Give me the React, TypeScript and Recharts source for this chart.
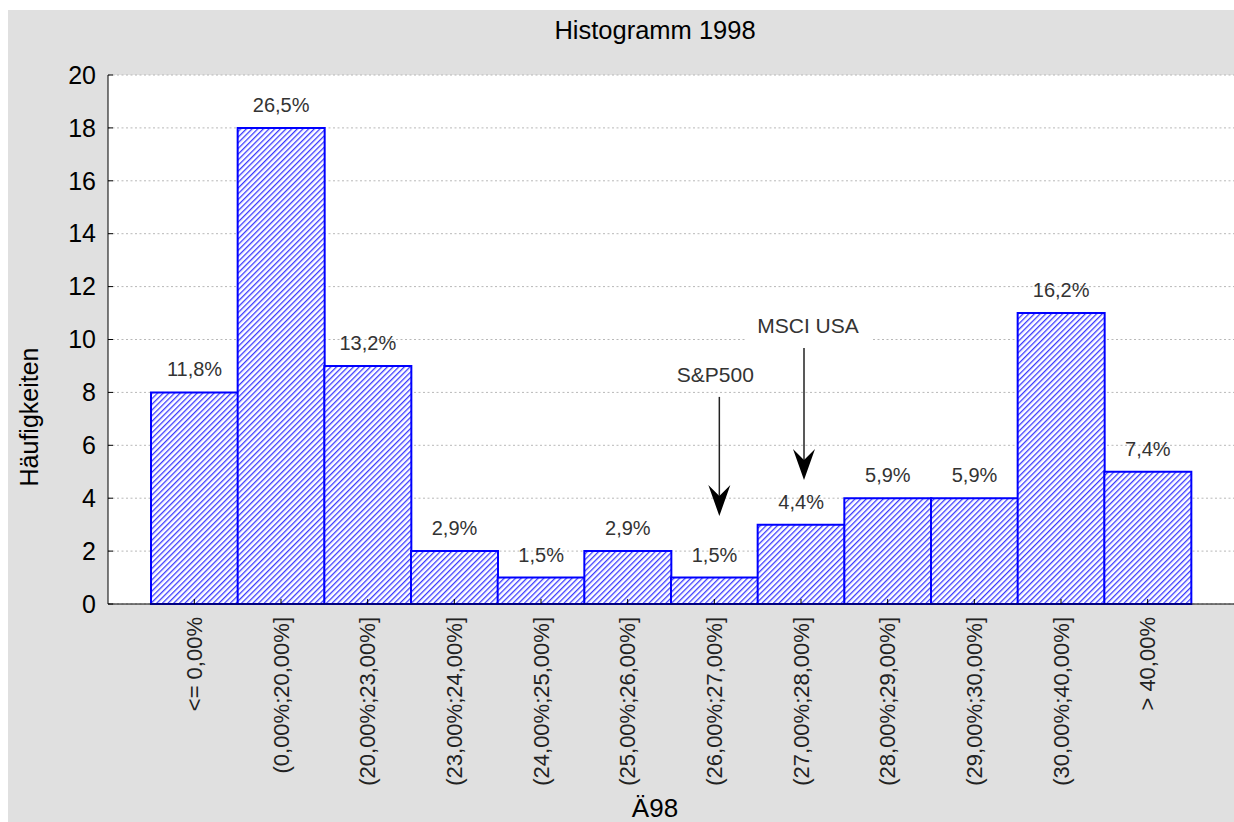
import React from 'react';
import {
  BarChart,
  Bar,
  XAxis,
  YAxis,
  CartesianGrid,
  LabelList,
  ReferenceLine,
} from 'recharts';

const bins = [
  '<= 0,00%',
  '(0,00%;20,00%]',
  '(20,00%;23,00%]',
  '(23,00%;24,00%]',
  '(24,00%;25,00%]',
  '(25,00%;26,00%]',
  '(26,00%;27,00%]',
  '(27,00%;28,00%]',
  '(28,00%;29,00%]',
  '(29,00%;30,00%]',
  '(30,00%;40,00%]',
  '> 40,00%',
];
const counts = [8, 18, 9, 2, 1, 2, 1, 3, 4, 4, 11, 5];
const shares = ['11,8%', '26,5%', '13,2%', '2,9%', '1,5%', '2,9%', '1,5%', '4,4%', '5,9%', '5,9%', '16,2%', '7,4%'];
const yTicks = [0, 2, 4, 6, 8, 10, 12, 14, 16, 18, 20];

// arrows pointing at the index returns
const markerNames = ['S&P500', 'MSCI USA'];
const markerBins = ['(26,00%;27,00%]', '(27,00%;28,00%]'];
const markerFrom = [7.83, 9.68];
const markerTo = [3.33, 4.69];

const data = bins.map((bin, i) => ({ bin, count: counts[i], share: shares[i] }));

const FONT = '"Liberation Sans", Arial, sans-serif';
const W = 1226;
const H = 812;

const LeftTick = ({ x, y, payload }: any) => (
  <g>
    <line x1={x + 12} x2={x + 17} y1={y} y2={y} stroke="#000" />
    <text x={x} y={y} dy="0.35em" textAnchor="end" fontSize={25} fill="#000" fontFamily={FONT}>
      {payload.value}
    </text>
  </g>
);

const RightTick = ({ x, y }: any) => (
  <line x1={x - 5} x2={x} y1={y} y2={y} stroke="#000" />
);

const BottomTick = ({ x, y, payload }: any) => (
  <g>
    <line x1={x} x2={x} y1={y - 13} y2={y - 18} stroke="#000" />
    <text
      transform={`translate(${x},${y}) rotate(-90)`}
      textAnchor="end"
      dy="0.35em"
      fontSize={22}
      fill="#222"
      fontFamily={FONT}
    >
      {payload.value}
    </text>
  </g>
);

const TopTick = ({ x, y }: any) => <line x1={x} x2={x} y1={y} y2={y + 5} stroke="#000" />;

const makeArrow = (name: string, dx: number, tdx: number) => (p: any) => {
  const x = p.x1 + dx;
  const { y1, y2 } = p;
  const boxW = name.length * 12.5 + 26;
  const tx = x + tdx;
  const base = y1 - 15;
  return (
    <g>
      <rect x={tx - boxW / 2} y={base - 22} width={boxW} height={30} fill="#fff" />
      <text x={tx} y={base} textAnchor="middle" fontSize={21} fill="#333" fontFamily={FONT}>
        {name}
      </text>
      <line x1={x} x2={x} y1={y1} y2={y2 - 20} stroke="#222" strokeWidth={1.5} />
      <polygon
        points={`${x},${y2} ${x - 11},${y2 - 31} ${x},${y2 - 20} ${x + 11},${y2 - 31}`}
        fill="#000"
      />
    </g>
  );
};

const arrowDx = [5, 3];
const textDx = [-4, 4];

export default function App() {
  return (
    <div
      style={{
        position: 'fixed',
        left: 8,
        top: 10,
        width: W,
        height: H,
        background: '#e0e0e0',
        overflow: 'hidden',
        fontFamily: FONT,
      }}
    >
      <svg width={0} height={0} style={{ position: 'absolute' }}>
        <defs>
          <pattern
            id="hatch98"
            patternUnits="userSpaceOnUse"
            width={4}
            height={4}
            patternTransform="rotate(45)"
          >
            <rect x={0} y={0} width={4} height={4} fill="#ffffff" />
            <rect x={0} y={0} width={1.3} height={4} fill="#3b3bff" />
          </pattern>
        </defs>
      </svg>
      <BarChart
        width={W}
        height={H}
        data={data}
        margin={{ top: 65, right: 0, bottom: 0, left: 0 }}
        barCategoryGap={0}
        barGap={0}
      >
        <CartesianGrid
          yAxisId="left"
          vertical={false}
          fill="#fff"
          stroke="#b8b8b8"
          strokeDasharray="2 2.5"
        />
        <XAxis
          dataKey="bin"
          interval={0}
          height={218}
          tickSize={0}
          tickMargin={13}
          tick={<BottomTick />}
          axisLine={{ stroke: '#000' }}
          padding={{ left: 43, right: 43 }}
        />
        <XAxis
          xAxisId="top"
          orientation="top"
          dataKey="bin"
          interval={0}
          height={0}
          tickSize={0}
          tickMargin={0}
          tick={<TopTick />}
          axisLine={{ stroke: '#000' }}
          padding={{ left: 43, right: 43 }}
        />
        <YAxis
          yAxisId="left"
          width={100}
          domain={[0, 20]}
          ticks={yTicks}
          interval={0}
          tickSize={0}
          tickMargin={12}
          tick={<LeftTick />}
          axisLine={{ stroke: '#000' }}
        />
        <YAxis
          yAxisId="right"
          orientation="right"
          width={0}
          type="number"
          domain={[0, 20]}
          ticks={yTicks}
          interval={0}
          tickSize={0}
          tickMargin={0}
          tick={<RightTick />}
          axisLine={false}
        />
        <Bar
          yAxisId="left"
          dataKey="count"
          fill="url(#hatch98)"
          stroke="#0000ff"
          strokeWidth={2}
          isAnimationActive={false}
        >
          <LabelList dataKey="share" position="top" offset={16} fontSize={20} fill="#333" fontFamily={FONT} />
        </Bar>
        {markerNames.map((name, i) => (
          <ReferenceLine
            key={name}
            yAxisId="left"
            segment={[
              { x: markerBins[i], y: markerFrom[i] },
              { x: markerBins[i], y: markerTo[i] },
            ]}
            shape={makeArrow(name, arrowDx[i], textDx[i])}
          />
        ))}
      </BarChart>
      <svg
        width={W}
        height={H}
        style={{ position: 'absolute', left: 0, top: 0, pointerEvents: 'none' }}
        fontFamily={FONT}
      >
        <text x={647} y={29} textAnchor="middle" fontSize={25.5} fill="#000">
          Histogramm 1998
        </text>
        <text transform="translate(30,407) rotate(-90)" textAnchor="middle" fontSize={25} fill="#000">
          Häufigkeiten
        </text>
        <text x={647} y={807} textAnchor="middle" fontSize={26} fill="#000">
          Ä98
        </text>
      </svg>
    </div>
  );
}
